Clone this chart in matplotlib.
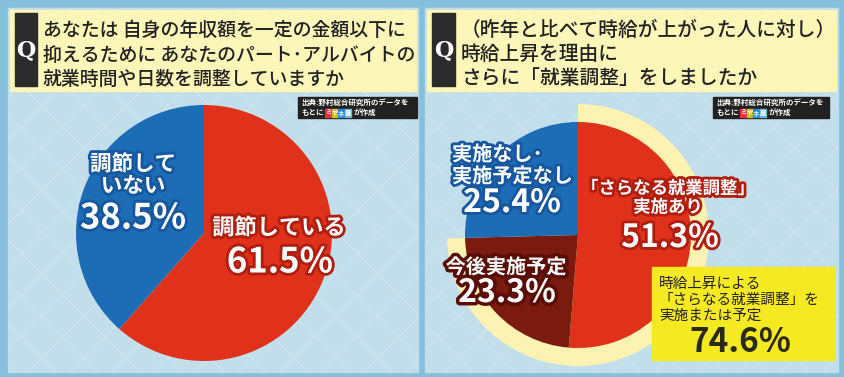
import matplotlib
matplotlib.use("Agg")
import matplotlib.pyplot as plt
import matplotlib.patheffects as pe
from matplotlib.patches import Rectangle

plt.rcParams['font.family'] = ['Noto Sans CJK JP', 'DejaVu Sans']

W, H = 845, 377

# left question
q1_title = ["あなたは 自身の年収額を一定の金額以下に",
            "抑えるために あなたのパート･アルバイトの",
            "就業時間や日数を調整していますか"]
q1_labels = ["調節している", "調節して\nいない"]
q1_values = [61.5, 38.5]

# right question
q2_title = ["（昨年と比べて時給が上がった人に対し）",
            "時給上昇を理由に",
            "さらに「就業調整」をしましたか"]
q2_labels = ["「さらなる就業調整」\n実施あり", "今後実施予定", "実施なし･\n実施予定なし"]
q2_values = [51.3, 23.3, 25.4]
q2_total_label = "時給上昇による\n「さらなる就業調整」を\n実施または予定"
q2_total = round(q2_values[0] + q2_values[1], 1)

source_1 = "出典:野村総合研究所のデータを"
source_2a = "もとに"
source_logo = ["ミ", "ヤ", "ネ", "屋"]
source_2b = "が作成"

RED = "#e0321a"
BLUE = "#1c6db5"
DARK = "#7b1a0e"
PALE = "#fcf3b2"


def rect(ax, x0, y0, x1, y1, **kw):
    ax.add_patch(Rectangle((x0, H - y1), x1 - x0, y1 - y0, **kw))


def label(ax, x, y, s, size, stroke, color="white", lw=4, **kw):
    ax.text(x, H - y, s, fontsize=size, color=color, ha="center", va="center",
            fontweight="bold", linespacing=1.05,
            path_effects=[pe.withStroke(linewidth=lw, foreground=stroke)], **kw)


fig = plt.figure(figsize=(8.45, 3.77), dpi=100, facecolor="#86bfdb")
ax = fig.add_axes([0, 0, 1, 1])
ax.set_facecolor("#86bfdb")

# panels, title boxes, Q marks
for px0, px1, qx0, qx1, title, tsize in [(8, 418, 15, 37, q1_title, 13.6),
                                         (425, 838, 432, 455, q2_title, 14.2)]:
    panel = Rectangle((px0, H - 372), px1 - px0, 364, color="#c2deea", zorder=0)
    ax.add_patch(panel)
    # faint diagonal texture
    for k in range(-400, 500, 42):
        for sgn in (1, -1):
            ln, = ax.plot([px0 + k, px0 + k + 400], [H - 372, H - 372 + 400 * sgn]
                          if sgn > 0 else [H - 8, H - 8 - 400],
                          color="white", lw=0.6, alpha=0.25, zorder=0.5)
            ln.set_clip_path(panel)
    rect(ax, px0 + 2, 10, px1 - 2, 91, color="#fdf6b9", zorder=1)
    rect(ax, qx0, 13, qx1, 86, color="#2b2b2b", zorder=2)
    ax.text((qx0 + qx1) / 2, H - 50, "Q", color="white", fontsize=16,
            fontweight="bold", family="DejaVu Serif", ha="center", va="center")
    for i, line in enumerate(title):
        ax.text(qx1 + 6, H - (30 + i * 24.5), line, fontsize=tsize,
                fontweight="medium", color="#222222", va="center")

# source boxes
for bx0, bx1 in [(298, 417), (713, 829)]:
    rect(ax, bx0, 97, bx1, 118, color="#222222", zorder=3)
    ax.text(bx0 + 3, H - 102.5, source_1, fontsize=5.4, color="white",
            fontweight="bold", va="center", zorder=4)
    ax.text(bx0 + 3, H - 112.5, source_2a, fontsize=5.4, color="white",
            fontweight="bold", va="center", zorder=4)
    lx = bx0 + 27
    for ch, c in zip(source_logo, ["#e8303a", "#c8c020", "#2a8ad8", "#6ab8d8"]):
        rect(ax, lx, 108.5, lx + 6.2, 116.5, color=c, zorder=4)
        ax.text(lx + 3.1, H - 112.5, ch, fontsize=4.6, color="white",
                fontweight="bold", ha="center", va="center", zorder=5)
        lx += 6.6
    ax.text(lx + 2, H - 112.5, source_2b, fontsize=5.4, color="white",
            fontweight="bold", va="center", zorder=4)

# left pie
ax.pie(q1_values, colors=[RED, BLUE], startangle=90, counterclock=False,
       center=(204, H - 233), radius=128, wedgeprops=dict(linewidth=0))

# right pie: pale ring behind the "実施または予定" share
ax.pie([q2_total, q2_values[2]], colors=[PALE, "none"], startangle=90,
       counterclock=False, center=(578, H - 235), radius=131,
       wedgeprops=dict(linewidth=0))
ax.pie(q2_values, colors=[RED, DARK, BLUE], startangle=90, counterclock=False,
       center=(578, H - 235), radius=113, wedgeprops=dict(linewidth=0))

# left labels
label(ax, 133, 175, q1_labels[1], 15.5, "#1657a0")
label(ax, 133, 218, f"{q1_values[1]}%", 25, "#1657a0")
label(ax, 279, 228, q1_labels[0], 16, "#b01e10")
label(ax, 280, 262, f"{q1_values[0]}%", 25, "#b01e10")

# right labels
ax.text(452, H - 165, q2_labels[2], fontsize=14.5, color="white", ha="left",
        va="center", fontweight="bold", linespacing=1.05,
        path_effects=[pe.withStroke(linewidth=4, foreground="#1657a0")])
label(ax, 512, 203, f"{q2_values[2]}%", 23, "#1657a0")
label(ax, 668, 198, q2_labels[0], 12.5, "#b01e10")
label(ax, 670, 238, f"{q2_values[0]}%", 23, "#b01e10")
label(ax, 506, 267, q2_labels[1], 14.5, "#5a0d06", lw=5)
label(ax, 507, 293, f"{q2_values[1]}%", 23, "#5a0d06", lw=5)

# total box
rect(ax, 652, 267, 834, 360, color="#f5ea22", zorder=6)
ax.text(659, H - 300, q2_total_label, fontsize=10.5, color="#222222",
        va="center", ha="left", linespacing=1.2, zorder=7)
ax.text(740, H - 342, f"{q2_total}%", fontsize=24, color="#2a2a1a",
        fontweight="bold", ha="center", va="center", zorder=7)

ax.set_xlim(0, W)
ax.set_ylim(0, H)
ax.set_aspect("auto")
ax.axis("off")

fig.savefig("out.png", dpi=100, facecolor=fig.get_facecolor())
